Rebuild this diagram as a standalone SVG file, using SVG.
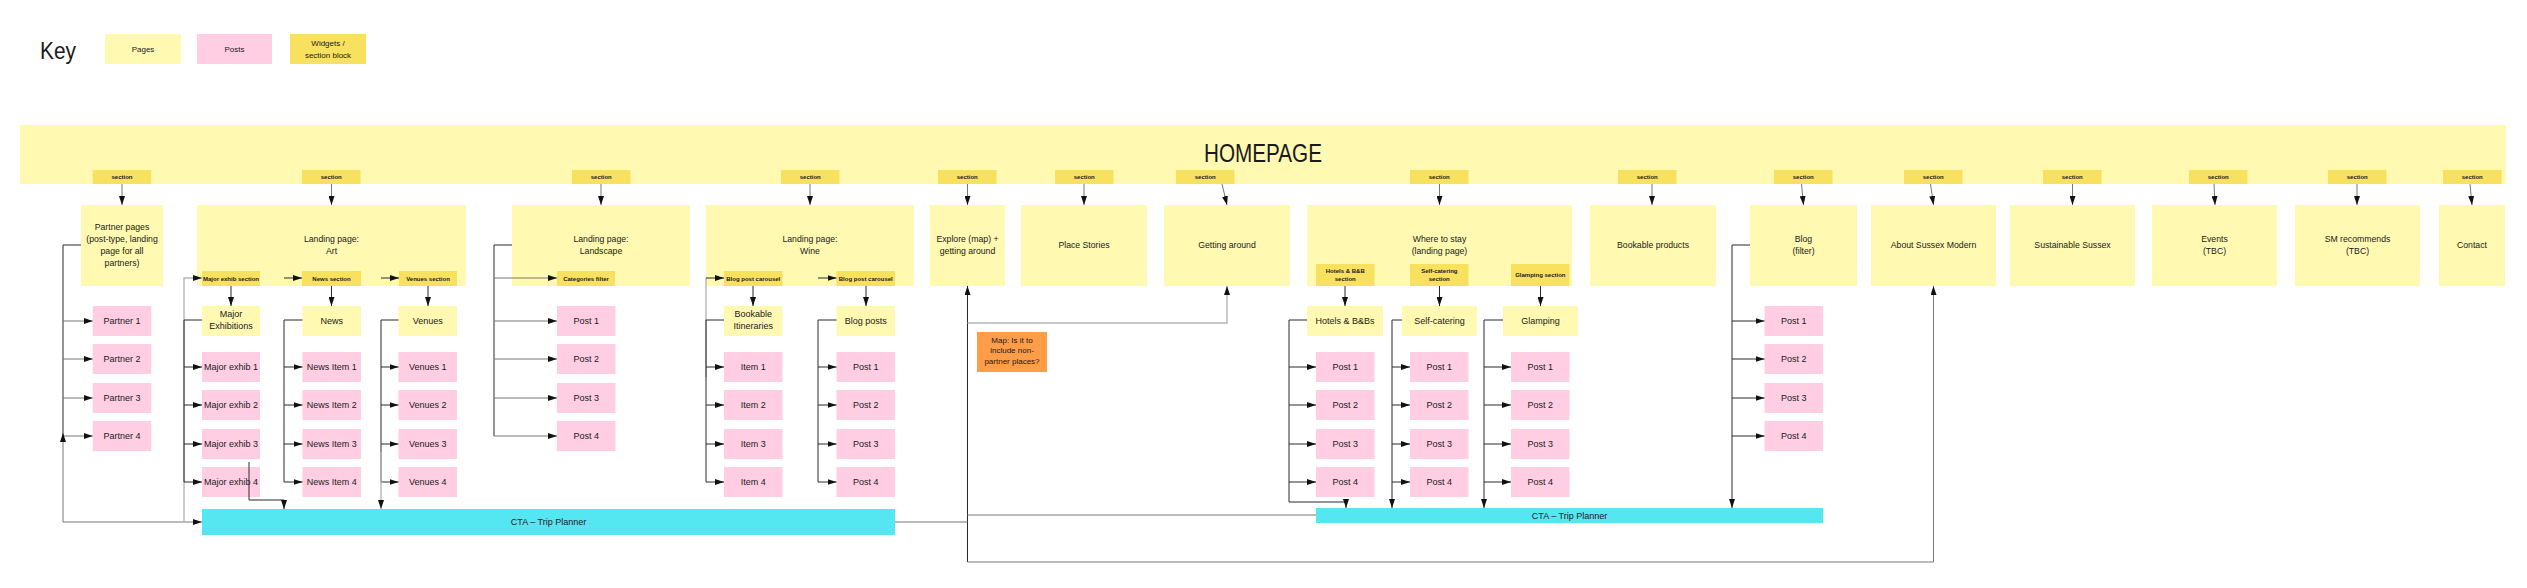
<svg xmlns="http://www.w3.org/2000/svg" width="2527" height="588" viewBox="0 0 2527 588">
<style>
text{font-family:"Liberation Sans",Arial,Helvetica,sans-serif;fill:#1a1a1a;text-anchor:middle}
.pg{fill:#FFF9B1}
.po{fill:#FFCEE2}
.wg{fill:#F9E160}
.cta{fill:#55E7F1}
.note{fill:#FF9D48}
.t{font-size:8.7px}
.tp{font-size:9px}
.ts{font-size:6px;font-weight:bold}
.tn{font-size:8px}
.ln{fill:none;stroke:#2a2a2a;stroke-width:1}
.lg{fill:none;stroke:#777;stroke-width:1}
.lt{fill:none;stroke:#b5b5b5;stroke-width:1.4}
</style>
<defs>
<marker id="a" markerUnits="userSpaceOnUse" markerWidth="10" markerHeight="6" refX="9" refY="3" orient="auto-start-reverse">
<path d="M0,0 L9,3 L0,6 z" fill="#111"/>
</marker>
</defs>
<rect width="2527" height="588" fill="#fff"/>

<g id="key">
<text x="40" y="59" style="font-size:24px;text-anchor:start" textLength="36" lengthAdjust="spacingAndGlyphs">Key</text>
<g id="key-pages"><rect class="pg" x="105" y="34" width="76" height="30"/><text class="tn" x="143" y="52">Pages</text></g>
<g id="key-posts"><rect class="po" x="197" y="34" width="75" height="30"/><text class="tn" x="234.5" y="52">Posts</text></g>
<g id="key-widgets"><rect class="wg" x="290" y="34" width="76" height="30"/><text class="tn" x="328" y="46.3">Widgets /</text><text class="tn" x="328" y="58">section block</text></g>
</g>

<g id="homepage">
<rect class="pg" x="20" y="125" width="2486" height="59"/>
<text x="1263" y="162" style="font-size:26px" textLength="118" lengthAdjust="spacingAndGlyphs">HOMEPAGE</text>
</g>

<g id="homepage-sections">
<g id="sec-partner"><rect class="wg" x="92.7" y="170" width="58.5" height="14"/><text class="ts" x="122" y="179.1">section</text></g>
<g id="sec-art"><rect class="wg" x="302" y="170" width="58.5" height="14"/><text class="ts" x="331.3" y="179.1">section</text></g>
<g id="sec-landscape"><rect class="wg" x="572" y="170" width="58.5" height="14"/><text class="ts" x="601.3" y="179.1">section</text></g>
<g id="sec-wine"><rect class="wg" x="781" y="170" width="58.5" height="14"/><text class="ts" x="810.3" y="179.1">section</text></g>
<g id="sec-explore"><rect class="wg" x="938" y="170" width="58.5" height="14"/><text class="ts" x="967.3" y="179.1">section</text></g>
<g id="sec-place"><rect class="wg" x="1055" y="170" width="58.5" height="14"/><text class="ts" x="1084.3" y="179.1">section</text></g>
<g id="sec-getting"><rect class="wg" x="1176" y="170" width="58.5" height="14"/><text class="ts" x="1205.3" y="179.1">section</text></g>
<g id="sec-where"><rect class="wg" x="1410" y="170" width="58.5" height="14"/><text class="ts" x="1439.3" y="179.1">section</text></g>
<g id="sec-bookable"><rect class="wg" x="1618" y="170" width="58.5" height="14"/><text class="ts" x="1647.3" y="179.1">section</text></g>
<g id="sec-blog"><rect class="wg" x="1774" y="170" width="58.5" height="14"/><text class="ts" x="1803.3" y="179.1">section</text></g>
<g id="sec-about"><rect class="wg" x="1904" y="170" width="58.5" height="14"/><text class="ts" x="1933.3" y="179.1">section</text></g>
<g id="sec-sustainable"><rect class="wg" x="2043" y="170" width="58.5" height="14"/><text class="ts" x="2072.3" y="179.1">section</text></g>
<g id="sec-events"><rect class="wg" x="2189" y="170" width="58.5" height="14"/><text class="ts" x="2218.3" y="179.1">section</text></g>
<g id="sec-sm"><rect class="wg" x="2328" y="170" width="58.5" height="14"/><text class="ts" x="2357.3" y="179.1">section</text></g>
<g id="sec-contact"><rect class="wg" x="2443" y="170" width="58.5" height="14"/><text class="ts" x="2472.3" y="179.1">section</text></g>
</g>

<g id="partner-pages"><rect class="pg" x="81" y="205" width="82" height="81"/>
<text class="t" x="122" y="230">Partner pages</text><text class="t" x="122" y="242">(post-type, landing</text><text class="t" x="122" y="254">page for all</text><text class="t" x="122" y="266">partners)</text></g>
<g id="landing-art"><rect class="pg" x="197" y="205" width="269" height="81"/>
<text class="t" x="331.5" y="242">Landing page:</text><text class="t" x="331.5" y="254">Art</text></g>
<g id="landing-landscape"><rect class="pg" x="512" y="205" width="178" height="81"/>
<text class="t" x="601" y="242">Landing page:</text><text class="t" x="601" y="254">Landscape</text></g>
<g id="landing-wine"><rect class="pg" x="706" y="205" width="208" height="81"/>
<text class="t" x="810" y="242">Landing page:</text><text class="t" x="810" y="254">Wine</text></g>
<g id="explore"><rect class="pg" x="930" y="205" width="75" height="81"/>
<text class="t" x="967.5" y="242">Explore (map) +</text><text class="t" x="967.5" y="254">getting around</text></g>
<g id="place-stories"><rect class="pg" x="1021" y="205" width="126" height="81"/><text class="t" x="1084" y="248">Place Stories</text></g>
<g id="getting-around"><rect class="pg" x="1164" y="205" width="126" height="81"/><text class="t" x="1227" y="248">Getting around</text></g>
<g id="where-to-stay"><rect class="pg" x="1307" y="205" width="265" height="81"/>
<text class="t" x="1439.5" y="242">Where to stay</text><text class="t" x="1439.5" y="254">(landing page)</text></g>
<g id="bookable-products"><rect class="pg" x="1590" y="205" width="126" height="81"/><text class="t" x="1653" y="248">Bookable products</text></g>
<g id="blog"><rect class="pg" x="1750" y="205" width="107" height="81"/>
<text class="t" x="1803.5" y="242">Blog</text><text class="t" x="1803.5" y="254">(filter)</text></g>
<g id="about"><rect class="pg" x="1871" y="205" width="125" height="81"/><text class="t" x="1933.5" y="248">About Sussex Modern</text></g>
<g id="sustainable"><rect class="pg" x="2010" y="205" width="125" height="81"/><text class="t" x="2072.5" y="248">Sustainable Sussex</text></g>
<g id="events"><rect class="pg" x="2152" y="205" width="125" height="81"/>
<text class="t" x="2214.5" y="242">Events</text><text class="t" x="2214.5" y="254">(TBC)</text></g>
<g id="sm-recommends"><rect class="pg" x="2295" y="205" width="125" height="81"/>
<text class="t" x="2357.5" y="242">SM recommends</text><text class="t" x="2357.5" y="254">(TBC)</text></g>
<g id="contact"><rect class="pg" x="2439" y="205" width="66" height="81"/><text class="t" x="2472" y="248">Contact</text></g>

<g id="sub-sections">
<g id="major-exhib-section"><rect class="wg" x="202" y="271" width="58" height="15"/><text class="ts" x="231" y="280.6">Major exhib section</text></g>
<g id="news-section"><rect class="wg" x="302" y="271" width="59" height="15"/><text class="ts" x="331.5" y="280.6">News section</text></g>
<g id="venues-section"><rect class="wg" x="399" y="271" width="58" height="15"/><text class="ts" x="428" y="280.6">Venues section</text></g>
<g id="categories-filter"><rect class="wg" x="557" y="271" width="58" height="15"/><text class="ts" x="586" y="280.6">Categories filter</text></g>
<g id="blog-carousel-1"><rect class="wg" x="724" y="271" width="58.5" height="15"/><text class="ts" x="753.3" y="280.6">Blog post carousel</text></g>
<g id="blog-carousel-2"><rect class="wg" x="836.5" y="271" width="58.5" height="15"/><text class="ts" x="865.8" y="280.6">Blog post carousel</text></g>
<g id="hotels-section"><rect class="wg" x="1316" y="264" width="58.5" height="22"/><text class="ts" x="1345.3" y="272.8">Hotels &amp; B&amp;B</text><text class="ts" x="1345.3" y="280.8">section</text></g>
<g id="selfcat-section"><rect class="wg" x="1410" y="264" width="58.5" height="22"/><text class="ts" x="1439.3" y="272.8">Self-catering</text><text class="ts" x="1439.3" y="280.8">section</text></g>
<g id="glamping-section"><rect class="wg" x="1511" y="264" width="58.5" height="22"/><text class="ts" x="1540.3" y="276.8">Glamping section</text></g>
</g>

<g id="sub-pages">
<g id="major-exhibitions"><rect class="pg" x="202" y="306" width="58" height="30"/><text class="tp" x="231" y="317.2">Major</text><text class="tp" x="231" y="329.2">Exhibitions</text></g>
<g id="news"><rect class="pg" x="302.5" y="306" width="58.5" height="30"/><text class="tp" x="331.8" y="324.2">News</text></g>
<g id="venues"><rect class="pg" x="398.5" y="306" width="58.5" height="30"/><text class="tp" x="427.8" y="324.2">Venues</text></g>
<g id="bookable-itineraries"><rect class="pg" x="724" y="306" width="58.5" height="30"/><text class="tp" x="753.3" y="317.2">Bookable</text><text class="tp" x="753.3" y="329.2">Itineraries</text></g>
<g id="blog-posts"><rect class="pg" x="836.5" y="306" width="58.5" height="30"/><text class="tp" x="865.8" y="324.2">Blog posts</text></g>
<g id="hotels"><rect class="pg" x="1307" y="306" width="76" height="30"/><text class="tp" x="1345" y="324.2">Hotels &amp; B&amp;Bs</text></g>
<g id="self-catering"><rect class="pg" x="1402" y="306" width="75" height="30"/><text class="tp" x="1439.5" y="324.2">Self-catering</text></g>
<g id="glamping"><rect class="pg" x="1503" y="306" width="75" height="30"/><text class="tp" x="1540.5" y="324.2">Glamping</text></g>
</g>

<g id="posts">
<g id="partner-1"><rect class="po" x="92.7" y="306" width="58.5" height="30"/><text class="tp" x="122" y="324.2">Partner 1</text></g>
<g id="partner-2"><rect class="po" x="92.7" y="344" width="58.5" height="30"/><text class="tp" x="122" y="362.2">Partner 2</text></g>
<g id="partner-3"><rect class="po" x="92.7" y="383" width="58.5" height="30"/><text class="tp" x="122" y="401.2">Partner 3</text></g>
<g id="partner-4"><rect class="po" x="92.7" y="421" width="58.5" height="30"/><text class="tp" x="122" y="439.2">Partner 4</text></g>

<g id="major-exhib-1"><rect class="po" x="202" y="352" width="58" height="30"/><text class="tp" x="231" y="370.2">Major exhib 1</text></g>
<g id="major-exhib-2"><rect class="po" x="202" y="390" width="58" height="30"/><text class="tp" x="231" y="408.2">Major exhib 2</text></g>
<g id="major-exhib-3"><rect class="po" x="202" y="429" width="58" height="30"/><text class="tp" x="231" y="447.2">Major exhib 3</text></g>
<g id="major-exhib-4"><rect class="po" x="202" y="467" width="58" height="30"/><text class="tp" x="231" y="485.2">Major exhib 4</text></g>

<g id="news-item-1"><rect class="po" x="302.5" y="352" width="58.5" height="30"/><text class="tp" x="331.8" y="370.2">News Item 1</text></g>
<g id="news-item-2"><rect class="po" x="302.5" y="390" width="58.5" height="30"/><text class="tp" x="331.8" y="408.2">News Item 2</text></g>
<g id="news-item-3"><rect class="po" x="302.5" y="429" width="58.5" height="30"/><text class="tp" x="331.8" y="447.2">News Item 3</text></g>
<g id="news-item-4"><rect class="po" x="302.5" y="467" width="58.5" height="30"/><text class="tp" x="331.8" y="485.2">News Item 4</text></g>

<g id="venues-1"><rect class="po" x="398.5" y="352" width="58.5" height="30"/><text class="tp" x="427.8" y="370.2">Venues 1</text></g>
<g id="venues-2"><rect class="po" x="398.5" y="390" width="58.5" height="30"/><text class="tp" x="427.8" y="408.2">Venues 2</text></g>
<g id="venues-3"><rect class="po" x="398.5" y="429" width="58.5" height="30"/><text class="tp" x="427.8" y="447.2">Venues 3</text></g>
<g id="venues-4"><rect class="po" x="398.5" y="467" width="58.5" height="30"/><text class="tp" x="427.8" y="485.2">Venues 4</text></g>

<g id="landscape-post-1"><rect class="po" x="557" y="306" width="58.5" height="30"/><text class="tp" x="586.3" y="324.2">Post 1</text></g>
<g id="landscape-post-2"><rect class="po" x="557" y="344" width="58.5" height="30"/><text class="tp" x="586.3" y="362.2">Post 2</text></g>
<g id="landscape-post-3"><rect class="po" x="557" y="383" width="58.5" height="30"/><text class="tp" x="586.3" y="401.2">Post 3</text></g>
<g id="landscape-post-4"><rect class="po" x="557" y="421" width="58.5" height="30"/><text class="tp" x="586.3" y="439.2">Post 4</text></g>

<g id="item-1"><rect class="po" x="724" y="352" width="58.5" height="30"/><text class="tp" x="753.3" y="370.2">Item 1</text></g>
<g id="item-2"><rect class="po" x="724" y="390" width="58.5" height="30"/><text class="tp" x="753.3" y="408.2">Item 2</text></g>
<g id="item-3"><rect class="po" x="724" y="429" width="58.5" height="30"/><text class="tp" x="753.3" y="447.2">Item 3</text></g>
<g id="item-4"><rect class="po" x="724" y="467" width="58.5" height="30"/><text class="tp" x="753.3" y="485.2">Item 4</text></g>

<g id="wine-post-1"><rect class="po" x="836.5" y="352" width="58.5" height="30"/><text class="tp" x="865.8" y="370.2">Post 1</text></g>
<g id="wine-post-2"><rect class="po" x="836.5" y="390" width="58.5" height="30"/><text class="tp" x="865.8" y="408.2">Post 2</text></g>
<g id="wine-post-3"><rect class="po" x="836.5" y="429" width="58.5" height="30"/><text class="tp" x="865.8" y="447.2">Post 3</text></g>
<g id="wine-post-4"><rect class="po" x="836.5" y="467" width="58.5" height="30"/><text class="tp" x="865.8" y="485.2">Post 4</text></g>

<g id="hotels-post-1"><rect class="po" x="1316" y="352" width="58.5" height="30"/><text class="tp" x="1345.3" y="370.2">Post 1</text></g>
<g id="hotels-post-2"><rect class="po" x="1316" y="390" width="58.5" height="30"/><text class="tp" x="1345.3" y="408.2">Post 2</text></g>
<g id="hotels-post-3"><rect class="po" x="1316" y="429" width="58.5" height="30"/><text class="tp" x="1345.3" y="447.2">Post 3</text></g>
<g id="hotels-post-4"><rect class="po" x="1316" y="467" width="58.5" height="30"/><text class="tp" x="1345.3" y="485.2">Post 4</text></g>

<g id="selfcat-post-1"><rect class="po" x="1410" y="352" width="58.5" height="30"/><text class="tp" x="1439.3" y="370.2">Post 1</text></g>
<g id="selfcat-post-2"><rect class="po" x="1410" y="390" width="58.5" height="30"/><text class="tp" x="1439.3" y="408.2">Post 2</text></g>
<g id="selfcat-post-3"><rect class="po" x="1410" y="429" width="58.5" height="30"/><text class="tp" x="1439.3" y="447.2">Post 3</text></g>
<g id="selfcat-post-4"><rect class="po" x="1410" y="467" width="58.5" height="30"/><text class="tp" x="1439.3" y="485.2">Post 4</text></g>

<g id="glamping-post-1"><rect class="po" x="1511" y="352" width="58.5" height="30"/><text class="tp" x="1540.3" y="370.2">Post 1</text></g>
<g id="glamping-post-2"><rect class="po" x="1511" y="390" width="58.5" height="30"/><text class="tp" x="1540.3" y="408.2">Post 2</text></g>
<g id="glamping-post-3"><rect class="po" x="1511" y="429" width="58.5" height="30"/><text class="tp" x="1540.3" y="447.2">Post 3</text></g>
<g id="glamping-post-4"><rect class="po" x="1511" y="467" width="58.5" height="30"/><text class="tp" x="1540.3" y="485.2">Post 4</text></g>

<g id="blog-post-1"><rect class="po" x="1764.5" y="306" width="58.5" height="30"/><text class="tp" x="1793.8" y="324.2">Post 1</text></g>
<g id="blog-post-2"><rect class="po" x="1764.5" y="344" width="58.5" height="30"/><text class="tp" x="1793.8" y="362.2">Post 2</text></g>
<g id="blog-post-3"><rect class="po" x="1764.5" y="383" width="58.5" height="30"/><text class="tp" x="1793.8" y="401.2">Post 3</text></g>
<g id="blog-post-4"><rect class="po" x="1764.5" y="421" width="58.5" height="30"/><text class="tp" x="1793.8" y="439.2">Post 4</text></g>
</g>

<g id="map-note"><rect class="note" x="977" y="332" width="70" height="40"/>
<text class="tn" x="1012" y="342.8">Map: Is it to</text><text class="tn" x="1012" y="353.3">include non-</text><text class="tn" x="1012" y="363.8">partner places?</text></g>

<g id="cta-1"><rect class="cta" x="202" y="509" width="693" height="26"/><text class="tp" x="548.5" y="525">CTA – Trip Planner</text></g>
<g id="cta-2"><rect class="cta" x="1316" y="508" width="507" height="15"/><text class="tp" x="1569.5" y="518.5">CTA – Trip Planner</text></g>

<g id="connectors">
<!-- homepage section -> pages -->
<g class="lg" marker-end="url(#a)">
<path d="M122,184 V205"/><path d="M331.5,184 V205"/><path d="M601,184 V205"/><path d="M810,184 V205"/>
<path d="M967.5,184 V205"/><path d="M1084,184 V205"/><path d="M1222,184 L1227,205"/><path d="M1439.5,184 V205"/>
<path d="M1652,184 V205"/><path d="M1801.5,184 L1803.5,205"/><path d="M1930.5,184 L1933.5,205"/><path d="M2072.5,184 V205"/>
<path d="M2214,184 L2215,205"/><path d="M2357,184 V205"/><path d="M2470,184 L2472,205"/>
</g>
<!-- sub section -> sub pages -->
<g class="ln" marker-end="url(#a)">
<path d="M231,286 V306"/><path d="M331.5,286 V306"/><path d="M428,286 V306"/>
<path d="M753,286 V306"/><path d="M866,286 V306"/>
<path d="M1345,286 V306"/><path d="M1439.5,286 V306"/><path d="M1540.5,286 V306"/>
</g>
<!-- partner column -->
<path class="ln" d="M81,245 H63 V436"/>
<g class="lg" marker-end="url(#a)"><path d="M63,321 H92.7"/><path d="M63,359 H92.7"/><path d="M63,398 H92.7"/><path d="M63,436 H92.7"/></g>
<path class="lg" d="M63,433 V522 H202" marker-start="url(#a)" marker-end="url(#a)"/>
<!-- art: major exhib column -->
<path class="lt" d="M184,522 V278 H202" marker-end="url(#a)"/>
<path class="ln" d="M202,320 H184 V482"/>
<g class="ln" marker-end="url(#a)"><path d="M184,367 H202"/><path d="M184,405 H202"/><path d="M184,444 H202"/><path d="M184,482 H202"/></g>
<path class="ln" d="M249,462 V500 H284 V509" marker-end="url(#a)"/>
<!-- news column -->
<path class="ln" d="M302.5,320 H284 V482"/>
<g class="ln" marker-end="url(#a)"><path d="M284,278 H302"/><path d="M284,367 H302.5"/><path d="M284,405 H302.5"/><path d="M284,444 H302.5"/><path d="M284,482 H302.5"/></g>
<!-- venues column -->
<path class="ln" d="M398.5,320 H381 V482"/>
<g class="ln" marker-end="url(#a)"><path d="M381,278 H399"/><path d="M381,367 H398.5"/><path d="M381,405 H398.5"/><path d="M381,444 H398.5"/><path d="M381,482 H398.5"/></g>
<path class="lt" d="M381,452 V509" marker-end="url(#a)"/>
<!-- landscape -->
<path class="ln" d="M512,245 H494 V436"/>
<g class="lg" marker-end="url(#a)"><path d="M494,278 H557"/><path d="M494,321 H557"/><path d="M494,359 H557"/><path d="M494,398 H557"/><path d="M494,436 H557"/></g>
<!-- wine: bookable -->
<path class="lt" d="M706,278 V377"/>
<path class="ln" d="M724,320 H706 V482"/>
<g class="ln" marker-end="url(#a)"><path d="M706,278 H724"/><path d="M706,367 H724"/><path d="M706,405 H724"/><path d="M706,444 H724"/><path d="M706,482 H724"/></g>
<!-- wine: blog -->
<path class="ln" d="M836.5,320 H818 V482"/>
<g class="ln" marker-end="url(#a)"><path d="M818,278 H836.5"/><path d="M818,367 H836.5"/><path d="M818,405 H836.5"/><path d="M818,444 H836.5"/><path d="M818,482 H836.5"/></g>
<!-- explore / getting around / about / CTA links -->
<path class="ln" d="M967.5,562 V286" marker-end="url(#a)"/>
<path class="lt" d="M967.5,323 H1227 V286" marker-end="url(#a)"/>
<path class="lg" d="M895,522 H967.5"/>
<path class="lg" d="M967.5,515 H1316"/>
<path class="lg" d="M967.5,562 H1933.5 V286" marker-end="url(#a)"/>
<!-- where to stay: hotels -->
<path class="ln" d="M1307,320 H1289 V502 H1346 V508" marker-end="url(#a)"/>
<g class="ln" marker-end="url(#a)"><path d="M1289,367 H1316"/><path d="M1289,405 H1316"/><path d="M1289,444 H1316"/><path d="M1289,482 H1316"/></g>
<!-- self-catering -->
<path class="ln" d="M1402,320 H1392 V508" marker-end="url(#a)"/>
<g class="ln" marker-end="url(#a)"><path d="M1392,367 H1410"/><path d="M1392,405 H1410"/><path d="M1392,444 H1410"/><path d="M1392,482 H1410"/></g>
<!-- glamping -->
<path class="ln" d="M1503,320 H1484 V508" marker-end="url(#a)"/>
<g class="ln" marker-end="url(#a)"><path d="M1484,367 H1511"/><path d="M1484,405 H1511"/><path d="M1484,444 H1511"/><path d="M1484,482 H1511"/></g>
<!-- blog -->
<path class="ln" d="M1750,245 H1732 V508" marker-end="url(#a)"/>
<g class="ln" marker-end="url(#a)"><path d="M1732,321 H1764.5"/><path d="M1732,359 H1764.5"/><path d="M1732,398 H1764.5"/><path d="M1732,436 H1764.5"/></g>
</g>
</svg>
